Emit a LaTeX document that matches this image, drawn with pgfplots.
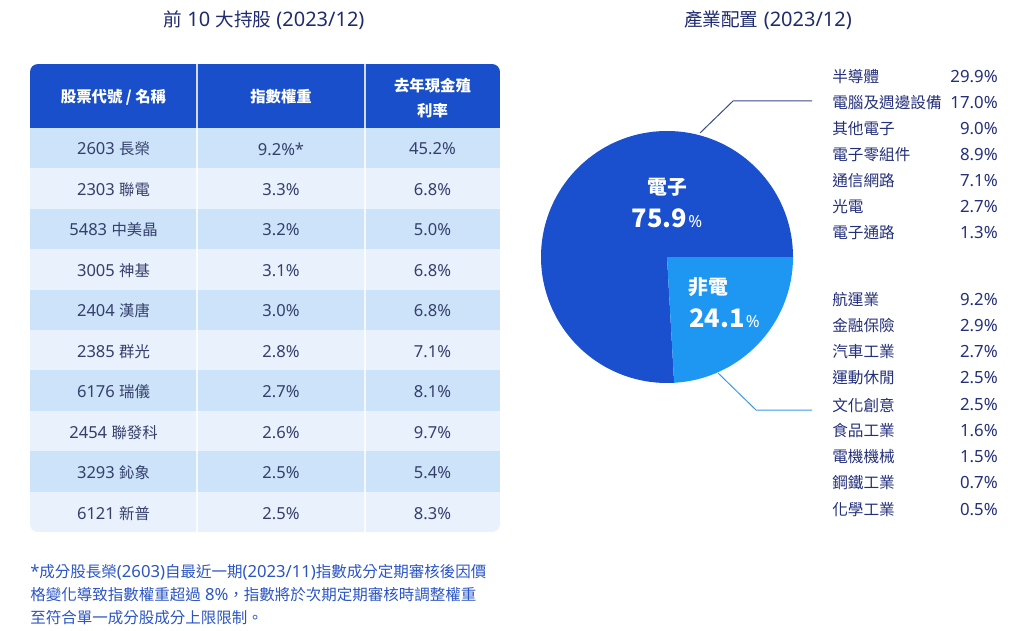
\documentclass[border=0pt]{standalone}
\usepackage{pgfplots}
\pgfplotsset{compat=1.18}
\usepackage{pgfplotstable}
\usepackage{fontspec}
\setmainfont{Noto Sans}
\newfontfamily\cjk{Noto Sans CJK TC}[Scale=0.93]
\newcommand{\C}[1]{{\cjk #1}}
\definecolor{hdr}{HTML}{1A4FCB}
\definecolor{rowA}{HTML}{CDE3F9}
\definecolor{rowB}{HTML}{E9F1FC}
\definecolor{bodytxt}{HTML}{34406B}
\definecolor{navy}{HTML}{1F2B6E}
\definecolor{listtxt}{HTML}{24307A}
\definecolor{foot}{HTML}{2B55C4}
\definecolor{piedark}{HTML}{1A4FCE}
\definecolor{pielight}{HTML}{1E97F3}
\definecolor{lineA}{HTML}{3B4A8A}
\definecolor{lineB}{HTML}{3A9AE8}

\pgfplotstableread{
sector share
elec 75.9
nonelec 24.1
}\piedata

\begin{document}
\begin{tikzpicture}
\pgfplotstablegetelem{1}{share}\of\piedata
\pgfmathsetmacro{\nonang}{-3.6*\pgfplotsretval}
\xdef\nonang{\nonang}
\begin{axis}[scale only axis, width=768pt, height=473.25pt,
  xmin=0, xmax=1024, ymin=0, ymax=631, y dir=reverse,
  hide axis, clip=false]
\path (axis cs:0,0) rectangle (axis cs:1024,631);
% titles
\node[font=\fontsize{15}{17}\selectfont, text=navy] at (axis cs:264,20) {\C{前} 10 \C{大持股} (2023/12)};
\node[font=\fontsize{15}{17}\selectfont, text=navy] at (axis cs:768,20) {\C{產業配置} (2023/12)};
% table background
\begin{scope}
\clip[rounded corners=6pt] (axis cs:30,64) rectangle (axis cs:500,532);
\fill[hdr] (axis cs:30,64) rectangle (axis cs:500,128);
\fill[rowA] (axis cs:30,128) rectangle (axis cs:500,168.4);
\fill[rowB] (axis cs:30,168.4) rectangle (axis cs:500,208.8);
\fill[rowA] (axis cs:30,208.8) rectangle (axis cs:500,249.2);
\fill[rowB] (axis cs:30,249.2) rectangle (axis cs:500,289.6);
\fill[rowA] (axis cs:30,289.6) rectangle (axis cs:500,330);
\fill[rowB] (axis cs:30,330) rectangle (axis cs:500,370.4);
\fill[rowA] (axis cs:30,370.4) rectangle (axis cs:500,410.8);
\fill[rowB] (axis cs:30,410.8) rectangle (axis cs:500,451.2);
\fill[rowA] (axis cs:30,451.2) rectangle (axis cs:500,491.6);
\fill[rowB] (axis cs:30,491.6) rectangle (axis cs:500,532);
\draw[white, line width=0.9pt, opacity=0.8] (axis cs:197,64) -- (axis cs:197,532);
\draw[white, line width=0.9pt, opacity=0.8] (axis cs:365,64) -- (axis cs:365,532);
\end{scope}
% header text
\begin{scope}[every node/.style={font=\fontsize{12.4}{14}\selectfont\bfseries, text=white}]
\node at (axis cs:113.5,97) {\C{股票代號 / 名稱}};
\node at (axis cs:281,97) {\C{指數權重}};
\node at (axis cs:432.5,86) {\C{去年現金殖}};
\node at (axis cs:432.5,111) {\C{利率}};
\end{scope}
% body text
\begin{scope}[every node/.style={font=\fontsize{12.4}{14}\selectfont, text=bodytxt}]
\node at (axis cs:113.5,149) {2603 \C{長榮}};   \node at (axis cs:281,149) {9.2\%*}; \node at (axis cs:432.5,149) {45.2\%};
\node at (axis cs:113.5,189.5) {2303 \C{聯電}}; \node at (axis cs:281,189.5) {3.3\%}; \node at (axis cs:432.5,189.5) {6.8\%};
\node at (axis cs:113.5,230) {5483 \C{中美晶}}; \node at (axis cs:281,230) {3.2\%}; \node at (axis cs:432.5,230) {5.0\%};
\node at (axis cs:113.5,270.5) {3005 \C{神基}}; \node at (axis cs:281,270.5) {3.1\%}; \node at (axis cs:432.5,270.5) {6.8\%};
\node at (axis cs:113.5,311) {2404 \C{漢唐}};   \node at (axis cs:281,311) {3.0\%}; \node at (axis cs:432.5,311) {6.8\%};
\node at (axis cs:113.5,351.5) {2385 \C{群光}}; \node at (axis cs:281,351.5) {2.8\%}; \node at (axis cs:432.5,351.5) {7.1\%};
\node at (axis cs:113.5,392) {6176 \C{瑞儀}};   \node at (axis cs:281,392) {2.7\%}; \node at (axis cs:432.5,392) {8.1\%};
\node at (axis cs:113.5,432.5) {2454 \C{聯發科}}; \node at (axis cs:281,432.5) {2.6\%}; \node at (axis cs:432.5,432.5) {9.7\%};
\node at (axis cs:113.5,473) {3293 \C{鈊象}};   \node at (axis cs:281,473) {2.5\%}; \node at (axis cs:432.5,473) {5.4\%};
\node at (axis cs:113.5,513.5) {6121 \C{新普}}; \node at (axis cs:281,513.5) {2.5\%}; \node at (axis cs:432.5,513.5) {8.3\%};
\end{scope}
% footnote
\begin{scope}[every node/.style={font=\fontsize{12.5}{14}\selectfont, text=foot, anchor=west, inner sep=0pt}]
\node at (axis cs:30,572) {*\C{成分股長榮}(2603)\C{自最近一期}(2023/11)\C{指數成分定期審核後因價}};
\node at (axis cs:30,595) {\C{格變化導致指數權重超過} 8\%\C{，指數將於次期定期審核時調整權重}};
\node at (axis cs:30,618) {\C{至符合單一成分股成分上限限制。}};
\end{scope}
% pie
\fill[piedark] (axis cs:667,257) -- ++(0:94.5pt) arc[start angle=0, end angle={360+\nonang}, radius=94.5pt] -- cycle;
\fill[pielight] (axis cs:667,257) -- ++(0:94.5pt) arc[start angle=0, end angle={\nonang}, radius=94.5pt] -- cycle;
\node[font=\fontsize{16}{17}\selectfont\bfseries, text=white] at (axis cs:667,187) {\C{電子}};
\node[anchor=base, text=white, inner sep=0pt] at (axis cs:667,227) {{\cjk\fontsize{20.5}{22}\selectfont\bfseries 75.9}\kern1pt{\fontsize{12.5}{14}\selectfont\%}};
\node[font=\fontsize{16}{17}\selectfont\bfseries, text=white, anchor=west, inner sep=0pt] at (axis cs:688,287) {\C{非電}};
\node[anchor=base west, text=white, inner sep=0pt] at (axis cs:689,327) {{\cjk\fontsize{20.5}{22}\selectfont\bfseries 24.1}\kern1pt{\fontsize{12.5}{14}\selectfont\%}};
% leader lines
\draw[lineA, line width=0.75pt] (axis cs:700,133) -- (axis cs:733,101) -- (axis cs:812,101);
\draw[lineB, line width=0.75pt] (axis cs:718,373) -- (axis cs:756,410) -- (axis cs:812,410);
% right lists
\begin{scope}[every node/.style={font=\fontsize{12.6}{14}\selectfont, text=listtxt, inner sep=0pt}]
\node[anchor=west] at (axis cs:832,77) {\C{半導體}};       \node[anchor=east] at (axis cs:998,77) {29.9\%};
\node[anchor=west] at (axis cs:832,103) {\C{電腦及週邊設備}}; \node[anchor=east] at (axis cs:998,103) {17.0\%};
\node[anchor=west] at (axis cs:832,129) {\C{其他電子}};     \node[anchor=east] at (axis cs:998,129) {9.0\%};
\node[anchor=west] at (axis cs:832,155) {\C{電子零組件}};   \node[anchor=east] at (axis cs:998,155) {8.9\%};
\node[anchor=west] at (axis cs:832,181) {\C{通信網路}};     \node[anchor=east] at (axis cs:998,181) {7.1\%};
\node[anchor=west] at (axis cs:832,207) {\C{光電}};         \node[anchor=east] at (axis cs:998,207) {2.7\%};
\node[anchor=west] at (axis cs:832,233) {\C{電子通路}};     \node[anchor=east] at (axis cs:998,233) {1.3\%};
\node[anchor=west] at (axis cs:832,300) {\C{航運業}};       \node[anchor=east] at (axis cs:998,300) {9.2\%};
\node[anchor=west] at (axis cs:832,326) {\C{金融保險}};     \node[anchor=east] at (axis cs:998,326) {2.9\%};
\node[anchor=west] at (axis cs:832,352) {\C{汽車工業}};     \node[anchor=east] at (axis cs:998,352) {2.7\%};
\node[anchor=west] at (axis cs:832,378) {\C{運動休閒}};     \node[anchor=east] at (axis cs:998,378) {2.5\%};
\node[anchor=west] at (axis cs:832,405) {\C{文化創意}};     \node[anchor=east] at (axis cs:998,405) {2.5\%};
\node[anchor=west] at (axis cs:832,431) {\C{食品工業}};     \node[anchor=east] at (axis cs:998,431) {1.6\%};
\node[anchor=west] at (axis cs:832,457) {\C{電機機械}};     \node[anchor=east] at (axis cs:998,457) {1.5\%};
\node[anchor=west] at (axis cs:832,483) {\C{鋼鐵工業}};     \node[anchor=east] at (axis cs:998,483) {0.7\%};
\node[anchor=west] at (axis cs:832,510) {\C{化學工業}};     \node[anchor=east] at (axis cs:998,510) {0.5\%};
\end{scope}
\end{axis}
\end{tikzpicture}
\end{document}
